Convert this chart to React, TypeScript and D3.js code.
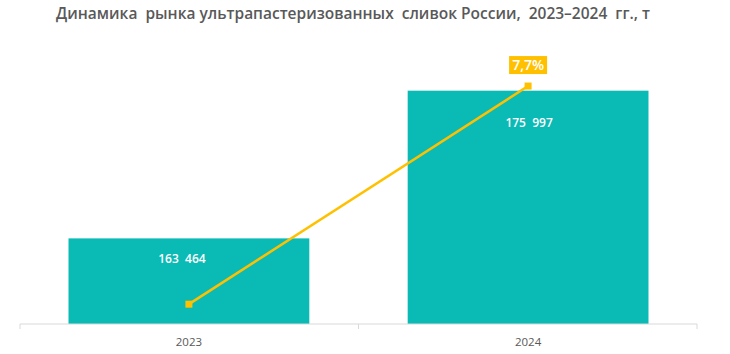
import React, { useEffect, useRef } from 'react';
import * as d3 from 'd3';

const YEARS = ['2023', '2024'];
const VOLUMES = [163464, 175997];
const GROWTH = [0, 7.7];
const GROWTH_LABELS = ['', '7,7%'];

const BAR_COLOR = '#0ABAB5';
const LINE_COLOR = '#FFC000';
const TEXT_COLOR = '#595959';

export default function App() {
  const svgRef = useRef<SVGSVGElement>(null);

  useEffect(() => {
    const width = 730;
    const height = 354;
    const margin = { top: 60, right: 33, bottom: 30, left: 20 };
    const svg = d3.select(svgRef.current);
    svg.selectAll('*').remove();

    const innerWidth = width - margin.left - margin.right;
    const innerHeight = height - margin.top - margin.bottom;

    svg
      .append('text')
      .attr('x', 353)
      .attr('y', 19)
      .attr('text-anchor', 'middle')
      .attr('font-family', 'Open Sans, sans-serif')
      .attr('font-weight', 600)
      .attr('font-size', 15.5)
      .attr('fill', TEXT_COLOR)
      .style('white-space', 'pre')
      .text('Динамика  рынка ультрапастеризованных  сливок России,  2023–2024  гг., т');

    const g = svg
      .append('g')
      .attr('transform', `translate(${margin.left},${margin.top})`);

    const x = d3.scaleBand().domain(YEARS).range([0, innerWidth]).paddingInner(0.29).paddingOuter(0.143);
    const xTicks = d3.scaleBand().domain(YEARS).range([0, innerWidth]);
    const y = d3.scaleLinear().domain([156200, 178600]).range([innerHeight, 0]);
    const y2 = d3.scaleLinear().domain([-0.7, 8.62]).range([innerHeight, 0]);

    // bars
    g.selectAll('rect.bar')
      .data(VOLUMES)
      .join('rect')
      .attr('class', 'bar')
      .attr('x', (_, i) => x(YEARS[i])!)
      .attr('y', d => y(d))
      .attr('width', x.bandwidth())
      .attr('height', d => innerHeight - y(d))
      .attr('fill', BAR_COLOR);

    // axis
    const axis = g.append('g').attr('transform', `translate(0,${innerHeight})`);
    axis
      .append('line')
      .attr('x1', 0)
      .attr('x2', innerWidth)
      .attr('stroke', '#d9d9d9');
    const tickPos = [0, ...YEARS.map(yr => xTicks(yr)! + xTicks.bandwidth())];
    axis
      .selectAll('line.tick')
      .data(tickPos)
      .join('line')
      .attr('class', 'tick')
      .attr('x1', d => d)
      .attr('x2', d => d)
      .attr('y1', 0)
      .attr('y2', 5)
      .attr('stroke', '#d9d9d9');
    axis
      .selectAll('text')
      .data(YEARS)
      .join('text')
      .attr('x', d => x(d)! + x.bandwidth() / 2)
      .attr('y', 22)
      .attr('text-anchor', 'middle')
      .attr('font-family', 'Open Sans, sans-serif')
      .attr('font-size', 11.5)
      .attr('fill', TEXT_COLOR)
      .text(d => d);

    // bar value labels
    const labelOffsets = [25, 36];
    const fmt = (v: number) => d3.format(',')(v).replace(',', '  ');
    g.selectAll('text.val')
      .data(VOLUMES)
      .join('text')
      .attr('class', 'val')
      .attr('x', (_, i) => x(YEARS[i])! + x.bandwidth() / 2 - (i === 0 ? 7 : -1))
      .attr('y', (d, i) => y(d) + labelOffsets[i])
      .attr('text-anchor', 'middle')
      .attr('font-family', 'Open Sans, sans-serif')
      .attr('font-weight', 600)
      .attr('font-size', 12)
      .attr('fill', '#ffffff')
      .style('white-space', 'pre')
      .text(d => fmt(d));

    // growth line
    const cx = (i: number) => x(YEARS[i])! + x.bandwidth() / 2;
    const line = d3
      .line<number>()
      .x((_, i) => cx(i))
      .y(d => y2(d));
    g.append('path')
      .datum(GROWTH)
      .attr('d', line)
      .attr('fill', 'none')
      .attr('stroke', LINE_COLOR)
      .attr('stroke-width', 2.5);
    g.selectAll('rect.marker')
      .data(GROWTH)
      .join('rect')
      .attr('class', 'marker')
      .attr('x', (_, i) => cx(i) - 3.5)
      .attr('y', d => y2(d) - 3.5)
      .attr('width', 7)
      .attr('height', 7)
      .attr('fill', LINE_COLOR);

    // growth label
    GROWTH.forEach((d, i) => {
      if (!GROWTH_LABELS[i]) return;
      const lx = cx(i);
      const ly = y2(d) - 21;
      g.append('rect')
        .attr('x', lx - 19)
        .attr('y', ly - 9)
        .attr('width', 38)
        .attr('height', 18)
        .attr('fill', LINE_COLOR);
      g.append('text')
        .attr('x', lx)
        .attr('y', ly + 5)
        .attr('text-anchor', 'middle')
        .attr('font-family', 'Open Sans, sans-serif')
        .attr('font-weight', 600)
        .attr('font-size', 14)
        .attr('fill', '#ffffff')
        .text(GROWTH_LABELS[i]);
    });
  }, []);

  return (
    <svg
      ref={svgRef}
      width={730}
      height={354}
      style={{ position: 'absolute', left: 0, top: 0, background: '#fff' }}
    />
  );
}
